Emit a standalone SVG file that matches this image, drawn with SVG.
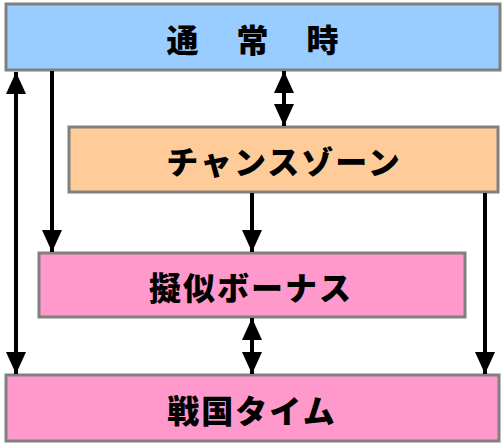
<svg xmlns="http://www.w3.org/2000/svg" width="502" height="444" viewBox="0 0 502 444">
<style>
.box{stroke:#808080;stroke-width:3}
.lbl{font-family:"Noto Sans CJK JP","Noto Sans CJK SC",sans-serif;font-weight:900;font-size:32px;fill:#000;text-anchor:middle;dominant-baseline:central}
.arr{stroke:#000;stroke-width:4;fill:none}
</style>
<defs>
<marker id="ah" viewBox="0 0 22 20" refX="22" refY="10" markerWidth="22" markerHeight="20" markerUnits="userSpaceOnUse" orient="auto-start-reverse">
<path d="M0,0 L22,10 L0,20 Z" fill="#000"/>
</marker>
</defs>
<rect width="502" height="444" fill="#fff"/>
<g id="node-tsujou">
<rect class="box" x="6" y="4" width="494" height="66" fill="#99ccff"/>
<text class="lbl" x="254" y="38" letter-spacing="3">通　常　時</text>
</g>
<g id="node-chance">
<rect class="box" x="69" y="127" width="429" height="65" fill="#ffcc99"/>
<text class="lbl" x="284" y="160" letter-spacing="2">チャンスゾーン</text>
</g>
<g id="node-giji">
<rect class="box" x="39" y="253" width="426" height="64" fill="#ff99cc"/>
<text class="lbl" x="251" y="286" letter-spacing="2">擬似ボーナス</text>
</g>
<g id="node-sengoku">
<rect class="box" x="6" y="375" width="493" height="66" fill="#ff99cc"/>
<text class="lbl" x="252" y="409" letter-spacing="2">戦国タイム</text>
</g>
<g id="connectors">
<line class="arr" x1="16" y1="72" x2="16" y2="374" marker-start="url(#ah)" marker-end="url(#ah)"/>
<line class="arr" x1="52" y1="71" x2="52" y2="252" marker-end="url(#ah)"/>
<line class="arr" x1="284" y1="71" x2="284" y2="126" marker-start="url(#ah)" marker-end="url(#ah)"/>
<line class="arr" x1="252" y1="193" x2="252" y2="252" marker-end="url(#ah)"/>
<line class="arr" x1="485" y1="193" x2="485" y2="374" marker-end="url(#ah)"/>
<line class="arr" x1="252" y1="318" x2="252" y2="374" marker-start="url(#ah)" marker-end="url(#ah)"/>
</g>
</svg>
